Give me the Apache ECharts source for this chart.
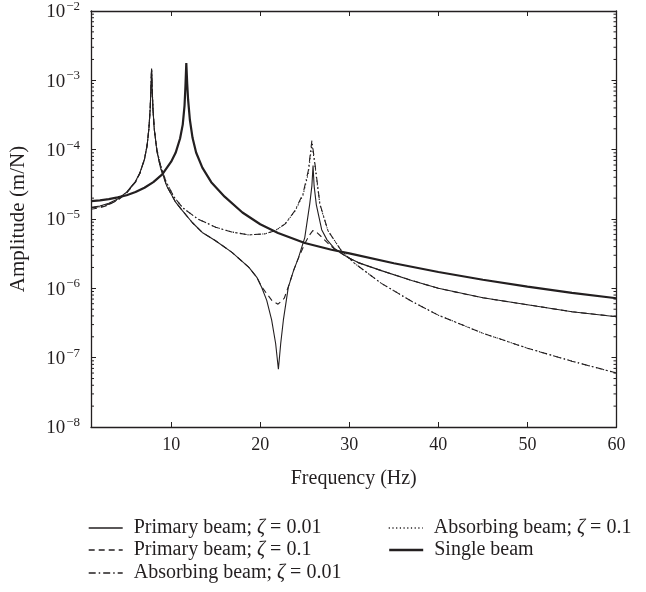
<!DOCTYPE html>
<html><head><meta charset="utf-8">
<script src="https://cdn.jsdelivr.net/npm/echarts@6/dist/echarts.min.js"></script>
<style>html,body{margin:0;padding:0;background:#fff}#c{width:646px;height:592px}</style>
</head><body><div id="c"></div>
<script>
// ---------- data ----------
const xTicks = [10, 20, 30, 40, 50, 60];

const singleF = [1,2,3,4,5,6,7,8,9,10,10.5,11,11.3,11.5,11.6,11.7,11.8,11.9,12.1,12.4,12.8,13.5,14.5,16,18,20,22,25,28,30,35,40,45,50,55,60];
const singleA = [1.81e-5,1.86e-5,1.93e-5,2.05e-5,2.2e-5,2.45e-5,2.82e-5,3.4e-5,4.4e-5,6.7e-5,9.0e-5,1.45e-4,2.3e-4,4.3e-4,8.0e-4,1.77e-3,9.0e-4,5.3e-4,2.7e-4,1.48e-4,9.1e-5,5.5e-5,3.4e-5,2.1e-5,1.24e-5,8.4e-6,6.3e-6,4.5e-6,3.6e-6,3.2e-6,2.3e-6,1.72e-6,1.33e-6,1.06e-6,8.6e-7,7.2e-7];

const prim1F = [1,2,3,4,5,6,6.5,7,7.3,7.5,7.65,7.75,7.8,7.85,7.95,8.1,8.4,8.8,9.5,10.5,11.26,12.37,13.49,14.94,16.83,18.73,19.62,20.17,20.73,21.28,21.73,22.04,22.3,22.6,23.15,23.74,24.27,25.0,25.56,25.8,25.93,26.05,26.3,26.9,27.5,28.3,29.8,31,33.6,37,40,45,50,55,60];
const prim1A = [1.47e-5,1.54e-5,1.69e-5,1.95e-5,2.44e-5,3.5e-5,4.7e-5,7.3e-5,1.15e-4,2.0e-4,4.0e-4,9.0e-4,1.48e-3,9.0e-4,4.0e-4,2.0e-4,9.5e-5,5.5e-5,3.0e-5,1.75e-5,1.32e-5,8.9e-6,6.4e-6,4.9e-6,3.3e-6,2.0e-6,1.44e-6,1.03e-6,6.7e-7,3.5e-7,1.6e-7,6.8e-8,1.6e-7,3.5e-7,1.03e-6,1.8e-6,2.7e-6,5.4e-6,1.65e-5,3.0e-5,5.9e-5,3.0e-5,1.6e-5,7.0e-6,5.0e-6,3.8e-6,2.8e-6,2.35e-6,1.8e-6,1.3e-6,1.0e-6,7.3e-7,5.8e-7,4.6e-7,3.9e-7];

const prim2F = [1,2,3,4,5,6,6.5,7,7.3,7.5,7.65,7.75,7.8,7.85,7.95,8.1,8.4,8.8,9.5,10.5,11.26,12.37,13.49,14.94,16.83,18.73,19.62,20.17,20.73,21.3,22.0,22.7,23.15,23.74,24.27,25.0,25.5,25.9,26.3,26.9,27.5,28.3,29.8,31,33.6,37,40,45,50,55,60];
const prim2A = [1.38e-5,1.45e-5,1.6e-5,1.87e-5,2.36e-5,3.4e-5,4.6e-5,7.2e-5,1.15e-4,2.0e-4,4.0e-4,9.0e-4,1.46e-3,9.0e-4,4.0e-4,2.0e-4,9.5e-5,5.5e-5,3.0e-5,1.75e-5,1.32e-5,8.9e-6,6.4e-6,4.9e-6,3.3e-6,2.0e-6,1.44e-6,1.05e-6,8.4e-7,6.7e-7,5.9e-7,7.2e-7,1.05e-6,1.8e-6,2.7e-6,4.4e-6,5.8e-6,6.8e-6,6.5e-6,5.5e-6,4.6e-6,3.7e-6,2.8e-6,2.35e-6,1.8e-6,1.3e-6,1.0e-6,7.3e-7,5.8e-7,4.6e-7,3.9e-7];

const abs1F = [1,2,3,4,5,6,6.5,7,7.3,7.5,7.65,7.75,7.8,7.85,7.95,8.1,8.4,8.8,9.4,10.3,11.3,13,15,16.8,18.7,20.5,21.7,22.8,23.9,24.8,25.4,25.8,26.1,26.7,27.6,29.1,30.6,33.6,37,40,45,50,55,60];
const abs1A = [1.45e-5,1.5e-5,1.63e-5,1.9e-5,2.4e-5,3.45e-5,4.6e-5,7.2e-5,1.15e-4,2.0e-4,4.0e-4,9.0e-4,1.45e-3,9.0e-4,4.0e-4,2.0e-4,1.0e-4,6.0e-5,3.5e-5,2.1e-5,1.45e-5,1.0e-5,7.6e-6,6.5e-6,5.9e-6,6.1e-6,6.8e-6,8.5e-6,1.32e-5,2.3e-5,5.0e-5,1.35e-4,6.9e-5,1.65e-5,6.8e-6,3.5e-6,2.29e-6,1.18e-6,6.5e-7,4.1e-7,2.25e-7,1.37e-7,8.9e-8,6.0e-8];

const abs2F = [1,2,3,4,5,6,6.5,7,7.3,7.5,7.65,7.75,7.8,7.85,7.95,8.1,8.4,8.8,9.4,10.3,11.3,13,15,16.8,18.7,20.5,21.7,22.8,23.9,24.8,25.4,25.8,26.1,26.7,27.6,29.1,30.6,33.6,37,40,45,50,55,60];
const abs2A = [1.45e-5,1.5e-5,1.63e-5,1.9e-5,2.4e-5,3.45e-5,4.6e-5,7.2e-5,1.15e-4,2.0e-4,4.0e-4,9.0e-4,1.45e-3,9.0e-4,4.0e-4,2.0e-4,1.0e-4,6.0e-5,3.5e-5,2.1e-5,1.45e-5,1.0e-5,7.6e-6,6.5e-6,5.9e-6,6.1e-6,6.8e-6,8.5e-6,1.3e-5,2.2e-5,4.6e-5,1.2e-4,6.5e-5,1.6e-5,6.8e-6,3.5e-6,2.29e-6,1.18e-6,6.5e-7,4.1e-7,2.25e-7,1.37e-7,8.9e-8,6.0e-8];

const names = ['Primary beam; ζ = 0.01', 'Primary beam; ζ = 0.1', 'Absorbing beam; ζ = 0.01', 'Absorbing beam; ζ = 0.1', 'Single beam'];

// ---------- chart ----------
const INK = '#231f20';
const FONT = '"Liberation Serif", "DejaVu Serif", serif';
const pairs = (f, a) => f.map((v, i) => [v, a[i]]);

const minorVals = [];
for (let e = -8; e < -2; e++) for (let m = 2; m <= 9; m++) minorVals.push(m * Math.pow(10, e));

function lineSeries(name, data, width, type) {
  return {
    name, type: 'line', data, symbol: 'none', showSymbol: false, smooth: false,
    xAxisIndex: 0, yAxisIndex: 0, animation: false,
    lineStyle: { color: INK, width, type },
    itemStyle: { color: INK }
  };
}

const legendFmt = (n) => {
  const i = n.indexOf('ζ');
  if (i < 0) return '{n|' + n + '}';
  return '{n|' + n.slice(0, i) + '}{z|ζ}{n|' + n.slice(i + 1) + '}';
};
function legendAt(name, left, top, lw) {
  return {
    orient: 'horizontal', left, top, padding: 0,
    itemWidth: 34, itemHeight: 14, itemGap: 0,
    data: [name],
    formatter: legendFmt,
    selectedMode: false,
    itemStyle: { opacity: 0, borderWidth: 0 },
    lineStyle: { width: lw },
    textStyle: {
      color: INK, fontFamily: FONT, fontSize: 20, lineHeight: 20, padding: [0, 0, 0, 6],
      rich: {
        n: { fontFamily: FONT, fontSize: 20, lineHeight: 20, color: INK },
        z: { fontFamily: FONT, fontSize: 20, lineHeight: 20, fontStyle: 'italic', color: INK }
      }
    }
  };
}

const option = {
  animation: false,
  backgroundColor: '#fff',
  textStyle: { fontFamily: FONT, color: INK },
  grid: { left: 88, right: 29.5, top: 10, bottom: 165, containLabel: false },
  xAxis: [
    {
      type: 'value', min: 1, max: 60, position: 'bottom',
      axisLine: { show: true, lineStyle: { color: INK, width: 1.3 } },
      axisTick: { show: true, inside: true, length: 5, customValues: xTicks, lineStyle: { color: INK } },
      axisLabel: { show: true, customValues: xTicks, fontSize: 18, margin: 9, color: INK, fontFamily: FONT },
      splitLine: { show: false },
      name: 'Frequency (Hz)', nameLocation: 'middle', nameGap: 42,
      nameTextStyle: { fontSize: 20, color: INK, fontFamily: FONT }
    },
    {
      type: 'value', min: 1, max: 60, position: 'top',
      axisLine: { show: true, lineStyle: { color: INK, width: 1.3 } },
      axisTick: { show: true, inside: true, length: 5, customValues: xTicks, lineStyle: { color: INK } },
      axisLabel: { show: false }, splitLine: { show: false }
    }
  ],
  yAxis: [
    {
      type: 'log', logBase: 10, min: 1e-8, max: 1e-2, position: 'left',
      axisLine: { show: true, lineStyle: { color: INK, width: 1.3 } },
      axisTick: { show: true, inside: true, length: 5, lineStyle: { color: INK } },
      splitLine: { show: false },
      axisLabel: {
        margin: 11, color: INK, fontFamily: FONT,
        formatter: (v) => '{b|10}{e|\u2212' + Math.abs(Math.round(Math.log10(v))) + '}',
        rich: {
          b: { fontSize: 19, fontFamily: FONT, color: INK, lineHeight: 22, verticalAlign: 'bottom' },
          e: { fontSize: 13, fontFamily: FONT, color: INK, lineHeight: 22, verticalAlign: 'top', padding: [0, 0, 10, 1] }
        }
      },
      name: 'Amplitude (m/N)', nameLocation: 'middle', nameGap: 62,
      nameTextStyle: { fontSize: 21, color: INK, fontFamily: FONT }
    },
    {
      type: 'log', logBase: 10, min: 1e-8, max: 1e-2, position: 'right',
      axisLine: { show: true, lineStyle: { color: INK, width: 1.3 } },
      axisTick: { show: true, inside: true, length: 5, lineStyle: { color: INK } },
      axisLabel: { show: false }, splitLine: { show: false }
    }
  ],
  legend: [
    legendAt(names[0], 88, 518, 1.4),
    legendAt(names[1], 88, 540, 1.4),
    legendAt(names[2], 88, 563, 1.4),
    legendAt(names[3], 388, 518, 1.4),
    legendAt(names[4], 388, 540, 2.4)
  ],
  series: [
    lineSeries(names[0], pairs(prim1F, prim1A), 1.1, 'solid'),
    lineSeries(names[1], pairs(prim2F, prim2A), 1.1, [6, 4]),
    lineSeries(names[2], pairs(abs1F, abs1A), 1.1, [7, 3, 1.5, 3]),
    lineSeries(names[3], pairs(abs2F, abs2A), 1.1, [1.2, 2.5]),
    lineSeries(names[4], pairs(singleF, singleA), 2.2, 'solid'),
    {
      type: 'custom', name: 'minorTicks', silent: true, animation: false, clip: false,
      xAxisIndex: 0, yAxisIndex: 0, z: 5,
      data: minorVals.map(v => [1, v]),
      renderItem: (params, api) => {
        const cs = params.coordSys;
        const y = api.coord([1, api.value(1)])[1];
        const st = { stroke: INK, lineWidth: 1 };
        return {
          type: 'group', children: [
            { type: 'line', shape: { x1: cs.x, y1: y, x2: cs.x + 3, y2: y }, style: st },
            { type: 'line', shape: { x1: cs.x + cs.width, y1: y, x2: cs.x + cs.width - 3, y2: y }, style: st }
          ]
        };
      }
    }
  ]
};

const chart = echarts.init(document.getElementById('c'), null, { renderer: 'canvas' });
chart.setOption(option);
</script>
</body></html>
